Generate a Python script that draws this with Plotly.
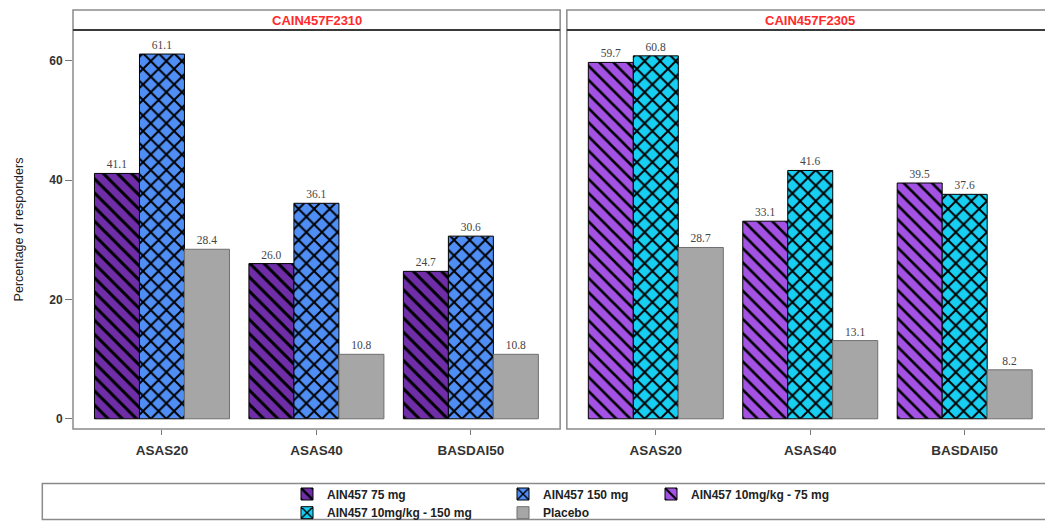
import plotly.graph_objects as go

# ---------------- data ----------------
categories = ["ASAS20", "ASAS40", "BASDAI50"]
study_titles = ["CAIN457F2310", "CAIN457F2305"]
series_names = ["AIN457 75 mg", "AIN457 150 mg", "AIN457 10mg/kg - 75 mg",
                "AIN457 10mg/kg - 150 mg", "Placebo"]
f2310_75mg = [41.1, 26.0, 24.7]
f2310_150mg = [61.1, 36.1, 30.6]
f2310_placebo = [28.4, 10.8, 10.8]
f2305_10_75 = [59.7, 33.1, 39.5]
f2305_10_150 = [60.8, 41.6, 37.6]
f2305_placebo = [28.7, 13.1, 8.2]
y_ticks = [0, 20, 40, 60]

# ---------------- layout geometry (pixels) ----------------
FW, FH = 1045, 521
L, R_EDGE, T, B = 72.7, 1045, 30, 429.5
PW, PH = R_EDGE - L, B - T


def px_x(p):
    return (p - L) / PW


def px_y(p):
    return (B - p) / PH


styles = {
    "AIN457 75 mg": dict(color="#6f2da8", shape="\\", size=10, solidity=0.3, line="#000000"),
    "AIN457 150 mg": dict(color="#4f8ef5", shape="x", size=11, solidity=0.32, line="#000000"),
    "AIN457 10mg/kg - 75 mg": dict(color="#a352e3", shape="\\", size=10, solidity=0.26, line="#000000"),
    "AIN457 10mg/kg - 150 mg": dict(color="#17cff2", shape="x", size=11, solidity=0.32, line="#000000"),
    "Placebo": dict(color="#a6a6a6", shape="", size=8, solidity=0.3, line="#6e6e6e"),
}

panel_series = [
    ("x", "y", [("AIN457 75 mg", f2310_75mg, "legend", True),
                ("AIN457 150 mg", f2310_150mg, "legend2", True),
                ("Placebo", f2310_placebo, "legend5", True)]),
    ("x2", "y2", [("AIN457 10mg/kg - 75 mg", f2305_10_75, "legend3", True),
                  ("AIN457 10mg/kg - 150 mg", f2305_10_150, "legend4", True),
                  ("Placebo", f2305_placebo, "legend5", False)]),
]

fig = go.Figure()
for xa, ya, items in panel_series:
    for name, vals, leg, show in items:
        st = styles[name]
        pattern = dict(shape=st["shape"], fgcolor="#000000", bgcolor=st["color"],
                       size=st["size"], solidity=st["solidity"], fillmode="replace")
        fig.add_trace(go.Bar(
            x=categories, y=vals, name=name, xaxis=xa, yaxis=ya,
            legend=leg, showlegend=show,
            marker=dict(color=st["color"], pattern=pattern,
                        line=dict(color=st["line"], width=1)),
            texttemplate="%{y:.1f}", textposition="outside",
            textfont=dict(family="Liberation Serif", size=11.5, color="#444444"),
            cliponaxis=False,
        ))

tick_font = dict(family="Liberation Sans", size=13.5, color="#333333", weight="bold")
common_x = dict(type="category", showgrid=False, zeroline=False, showline=False,
                ticks="outside", ticklen=5, tickcolor="#777777", tickwidth=1,
                tickfont=tick_font, ticklabelstandoff=4, fixedrange=True)
common_y = dict(range=[-1.71, 65.13], showgrid=False, zeroline=False, showline=False)

fig.update_layout(
    width=FW, height=FH,
    margin=dict(l=L, r=0, t=T, b=FH - B, pad=0, autoexpand=False),
    paper_bgcolor="white", plot_bgcolor="white",
    barmode="group", bargap=0.126, bargroupgap=0,
    xaxis=dict(domain=[0, px_x(560)], range=[-0.576, 2.578], anchor="y", **common_x),
    xaxis2=dict(domain=[px_x(566.7), 1], range=[-0.576, 2.52], anchor="y2", **common_x),
    yaxis=dict(domain=[0, 1], anchor="x", tickvals=y_ticks, ticks="outside", ticklen=7,
               tickcolor="#777777", tickfont=dict(family="Liberation Sans", size=12,
                                                  color="#333333", weight="bold"),
               title=dict(text="Percentage of responders", standoff=22,
                          font=dict(family="Liberation Sans", size=12.5, color="#222222")),
               **common_y),
    yaxis2=dict(domain=[0, 1], anchor="x2", showticklabels=False, ticks="",
                matches="y", **common_y),
    showlegend=True,
)

# legends: one per entry so they can be placed like the original grid
leg_font = dict(family="Liberation Sans", size=12, color="#222222", weight="bold")
leg_pos = {"legend": (287, 494), "legend2": (503, 494), "legend3": (651, 494),
           "legend4": (287, 512.7), "legend5": (503, 512.7)}
for key, (lx, ly) in leg_pos.items():
    fig.update_layout({key: dict(x=lx / FW, y=1 - ly / FH, xref="container", yref="container",
                                 xanchor="left", yanchor="middle", orientation="h",
                                 bgcolor="rgba(0,0,0,0)", borderwidth=0, font=leg_font,
                                 itemclick=False, itemdoubleclick=False)})

frame_col = "#8a8a8a"
shapes = []
panels = [(0, px_x(560)), (px_x(566.7), px_x(1054))]
for x0, x1 in panels:
    shapes.append(dict(type="rect", xref="paper", yref="paper", x0=x0, x1=x1,
                       y0=0, y1=px_y(10), line=dict(color=frame_col, width=1.5)))
    shapes.append(dict(type="line", xref="paper", yref="paper", x0=x0, x1=x1,
                       y0=1, y1=1, line=dict(color="#3a3a3a", width=2)))
# legend box
shapes.append(dict(type="rect", xref="paper", yref="paper", x0=px_x(42), x1=px_x(1060),
                   y0=px_y(520), y1=px_y(484), line=dict(color=frame_col, width=1.5)))
fig.update_layout(shapes=shapes)

annots = []
for (x0, x1), title in zip(panels, study_titles):
    annots.append(dict(x=(x0 + x1) / 2, y=px_y(20.5), xref="paper", yref="paper",
                       text=title, showarrow=False, xanchor="center", yanchor="middle",
                       font=dict(family="Liberation Sans", size=13, color="#ff2a2a",
                                 weight="bold")))
fig.update_layout(annotations=annots)

fig.write_html("out.html", config={"displayModeBar": False},
               post_script="document.body.style.margin='0';document.body.style.overflow='hidden';")
